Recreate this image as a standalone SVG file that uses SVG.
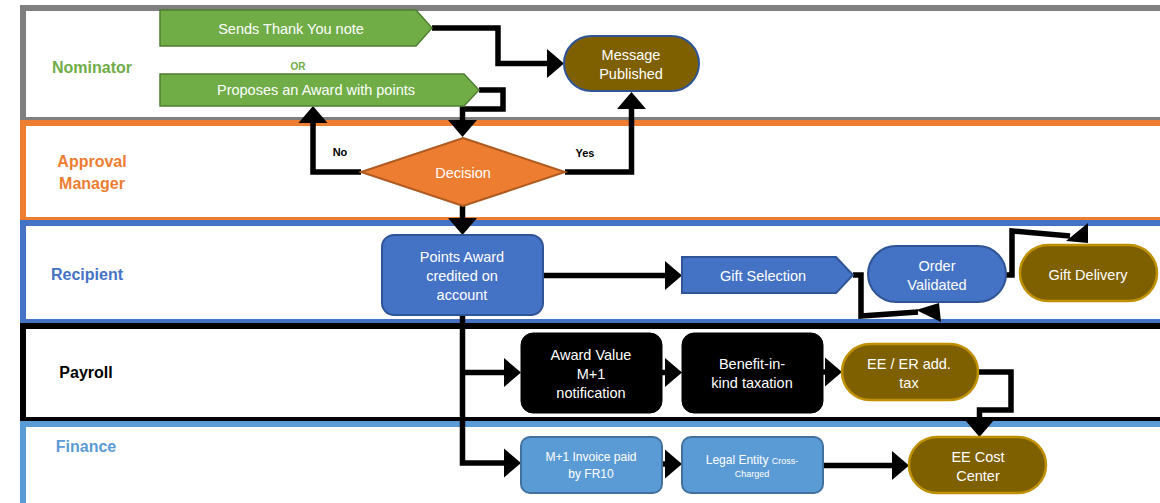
<svg xmlns="http://www.w3.org/2000/svg" width="1160" height="503" viewBox="0 0 1160 503">
  <style>
    text { font-family: "Liberation Sans", Arial, sans-serif; text-anchor: middle; }
    .lane { fill: #ffffff; stroke-width: 6; }
    .lbl { font-size: 16px; font-weight: bold; }
    .wt { fill: #ffffff; font-size: 14.5px; }
    .sm { fill: #ffffff; font-size: 12px; }
    .xs { font-size: 9px; }
    .tag { font-size: 11px; font-weight: bold; fill: #000000; }
    .green { fill: #70AD47; stroke: #507E32; stroke-width: 1.5; }
    .blue { fill: #4472C4; stroke: #2F5597; stroke-width: 2; }
    .gold { fill: #7F6000; stroke: #BF9000; stroke-width: 2.5; }
    .dark { fill: #000000; stroke: #000000; stroke-width: 1; }
    .light { fill: #5B9BD5; stroke: #41719C; stroke-width: 2; }
    .flow { fill: none; stroke: #000000; stroke-width: 5.5; stroke-linejoin: miter; }
    .head { fill: #000000; }
  </style>
  <defs>
    <marker id="arrow" markerUnits="userSpaceOnUse" markerWidth="17" markerHeight="29" viewBox="0 0 17 29" refX="0" refY="14.5" orient="auto" overflow="visible">
      <path d="M0,0 L17,14.5 L0,29 z" fill="#000000"/>
    </marker>
  </defs>

  <!-- swimlanes -->
  <g id="lanes">
    <rect class="lane" x="23" y="8" width="1170" height="112" stroke="#7F7F7F"/>
    <rect class="lane" x="23" y="123" width="1170" height="97" stroke="#ED7D31"/>
    <rect class="lane" x="23" y="223" width="1170" height="99" stroke="#4472C4"/>
    <rect class="lane" x="23" y="326" width="1170" height="94" stroke="#000000"/>
    <rect class="lane" x="23" y="424" width="1170" height="100" stroke="#5B9BD5"/>
    <text class="lbl" x="92" y="73" fill="#70AD47">Nominator</text>
    <text class="lbl" x="92" y="167" fill="#ED7D31">Approval</text>
    <text class="lbl" x="92" y="189" fill="#ED7D31">Manager</text>
    <text class="lbl" x="87" y="280" fill="#4472C4">Recipient</text>
    <text class="lbl" x="86" y="378" fill="#000000">Payroll</text>
    <text class="lbl" x="86" y="452" fill="#5B9BD5">Finance</text>
    <text x="298" y="70" font-size="10" font-weight="bold" fill="#70AD47">OR</text>
  </g>

  <!-- connectors -->
  <g id="connectors">
    <path class="flow" d="M432,28 H498 V63.5 H547" marker-end="url(#arrow)"/>
    <path class="flow" d="M479,90 H503 V109 H462.5 V120" marker-end="url(#arrow)"/>
    <path class="flow" d="M361,172 H313 V123" marker-end="url(#arrow)"/>
    <path class="flow" d="M565,172 H631.5 V109" marker-end="url(#arrow)"/>
    <path class="flow" d="M462.5,206 V218" marker-end="url(#arrow)"/>
    <path class="flow" d="M543,275.5 H665" marker-end="url(#arrow)"/>
    <path class="flow" d="M853,275 H861 V316 L918,312"/>
    <polygon class="head" points="939,303 941,322 916,310"/>
    <path class="flow" d="M1006,275 H1012 V231 L1070,236"/>
    <polygon class="head" points="1088,223 1088,243 1066,241"/>
    <path class="flow" d="M462.5,315 V463 H504" marker-end="url(#arrow)"/>
    <path class="flow" d="M462.5,372.5 H504" marker-end="url(#arrow)"/>
    <path class="flow" d="M662,372.5 H665" marker-end="url(#arrow)"/>
    <path class="flow" d="M823,372 H825" marker-end="url(#arrow)"/>
    <path class="flow" d="M978,372 H1011 V410 H979.5 V420" marker-end="url(#arrow)"/>
    <path class="flow" d="M662,464 H665" marker-end="url(#arrow)"/>
    <path class="flow" d="M823,465.5 H892" marker-end="url(#arrow)"/>
    <text class="tag" x="340" y="156">No</text>
    <text class="tag" x="585" y="157">Yes</text>
  </g>

  <!-- nodes -->
  <g id="thank-you">
    <polygon class="green" points="160,10 416,10 432,28 416,46 160,46"/>
    <text class="wt" x="291" y="33.5">Sends Thank You note</text>
  </g>
  <g id="propose-award">
    <polygon class="green" points="160,74 464,74 479,90 464,106 160,106"/>
    <text class="wt" x="316" y="95">Proposes an Award with points</text>
  </g>
  <g id="message-published">
    <rect x="564" y="36" width="135" height="55" rx="27.5" fill="#7F6000" stroke="#2F5597" stroke-width="2"/>
    <text class="wt" x="631" y="60">Message</text>
    <text class="wt" x="631" y="78.5">Published</text>
  </g>
  <g id="decision">
    <polygon points="463,138 565,172 463,206 361,172" fill="#ED7D31" stroke="#AE5A21" stroke-width="2"/>
    <text class="wt" x="463" y="178">Decision</text>
  </g>
  <g id="points-award">
    <rect class="blue" x="382" y="235" width="161" height="80" rx="12"/>
    <text class="wt" x="462" y="262">Points Award</text>
    <text class="wt" x="462" y="281">credited on</text>
    <text class="wt" x="462" y="300">account</text>
  </g>
  <g id="gift-selection">
    <polygon class="blue" points="682,257 836,257 853,275 836,293 682,293"/>
    <text class="wt" x="763" y="280.5">Gift Selection</text>
  </g>
  <g id="order-validated">
    <rect class="blue" x="868" y="246" width="138" height="56" rx="28"/>
    <text class="wt" x="937" y="271">Order</text>
    <text class="wt" x="937" y="290">Validated</text>
  </g>
  <g id="gift-delivery">
    <rect class="gold" x="1020" y="245" width="137" height="56" rx="28"/>
    <text class="wt" x="1088" y="279.5">Gift Delivery</text>
  </g>
  <g id="award-value">
    <rect class="dark" x="521" y="333" width="141" height="80" rx="12"/>
    <text class="wt" x="591" y="360">Award Value</text>
    <text class="wt" x="591" y="379">M+1</text>
    <text class="wt" x="591" y="398">notification</text>
  </g>
  <g id="benefit-in-kind">
    <rect class="dark" x="682" y="333" width="141" height="80" rx="12"/>
    <text class="wt" x="752" y="369">Benefit-in-</text>
    <text class="wt" x="752" y="388">kind taxation</text>
  </g>
  <g id="ee-er-tax">
    <rect class="gold" x="842" y="344" width="136" height="56" rx="28"/>
    <text class="wt" x="909" y="369">EE / ER add.</text>
    <text class="wt" x="909" y="388">tax</text>
  </g>
  <g id="invoice">
    <rect class="light" x="521" y="437" width="141" height="56" rx="9"/>
    <text class="sm" x="591" y="461">M+1 Invoice paid</text>
    <text class="sm" x="591" y="478">by FR10</text>
  </g>
  <g id="legal-entity">
    <rect class="light" x="682" y="437" width="141" height="56" rx="9"/>
    <text class="sm" x="752" y="464">Legal Entity <tspan class="xs">Cross-</tspan></text>
    <text class="sm xs" x="752" y="477">Charged</text>
  </g>
  <g id="ee-cost-center">
    <rect class="gold" x="909" y="437" width="137" height="56" rx="28"/>
    <text class="wt" x="978" y="462">EE Cost</text>
    <text class="wt" x="978" y="481">Center</text>
  </g>
</svg>
